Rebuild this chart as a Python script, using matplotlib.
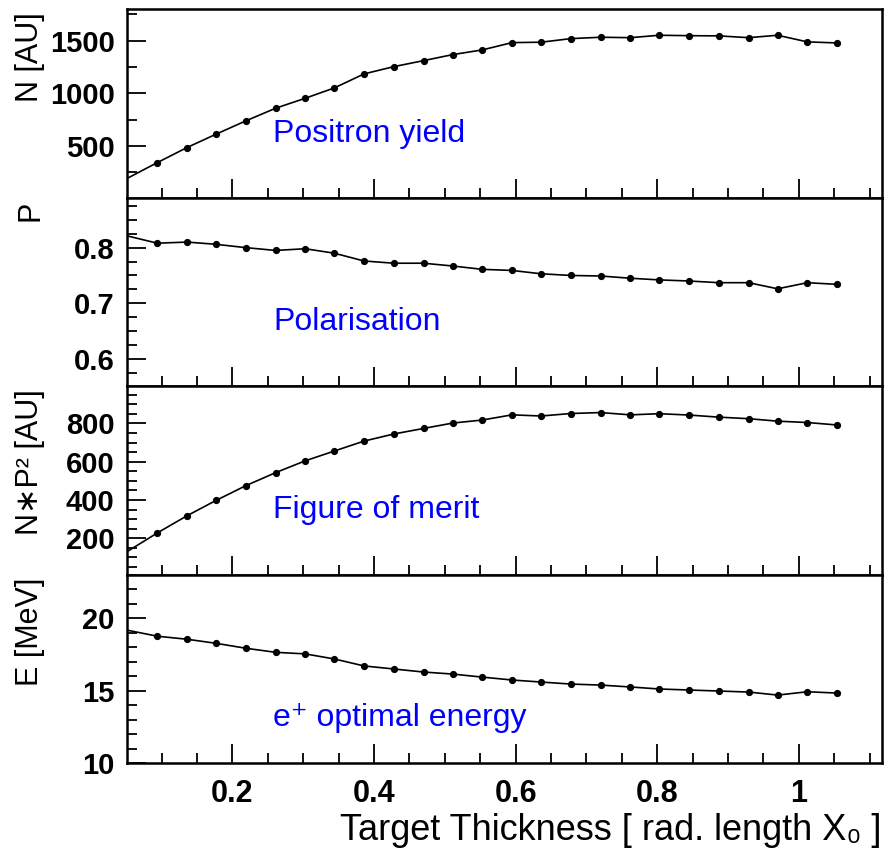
import matplotlib
matplotlib.use('Agg')
import matplotlib.pyplot as plt
from matplotlib.ticker import MultipleLocator, FuncFormatter

plt.rcParams['font.family'] = ['Liberation Sans', 'DejaVu Sans']

# target thickness in radiation lengths
thickness = [0.052, 0.094, 0.136, 0.177, 0.219, 0.261, 0.303, 0.344, 0.386,
             0.428, 0.470, 0.511, 0.553, 0.595, 0.636, 0.678, 0.720, 0.762,
             0.803, 0.845, 0.887, 0.929, 0.970, 1.012, 1.054]

yield_N = [194, 342, 485, 612, 738, 858, 953, 1051, 1184, 1253, 1310, 1367,
           1412, 1481, 1485, 1519, 1532, 1528, 1551, 1547, 1545, 1528, 1551,
           1488, 1478]

polar_P = [0.821, 0.808, 0.810, 0.806, 0.800, 0.795, 0.798, 0.790, 0.776,
           0.772, 0.772, 0.767, 0.761, 0.759, 0.753, 0.750, 0.749, 0.745,
           0.742, 0.740, 0.737, 0.737, 0.726, 0.737, 0.734]

merit_NP2 = [132, 228, 318, 398, 475, 543, 605, 656, 708, 745, 774, 802, 818,
             845, 839, 852, 857, 845, 851, 844, 833, 825, 812, 805, 792]

energy_E = [19.17, 18.76, 18.55, 18.27, 17.93, 17.65, 17.54, 17.19, 16.71,
            16.50, 16.29, 16.15, 15.94, 15.74, 15.60, 15.46, 15.39, 15.26,
            15.12, 15.05, 14.98, 14.91, 14.70, 14.93, 14.84]

panels = [
    (yield_N, 'N [AU]', 'Positron yield', (10, 1800), 500, 250, 0.296, '{:.0f}'),
    (polar_P, 'P', 'Polarisation', (0.551, 0.89), 0.1, 0.025, 0.298, '{:.1f}'),
    (merit_NP2, 'N\u2217P\u00b2 [AU]', 'Figure of merit', (10, 995), 200, 50, 0.303, '{:.0f}'),
    (energy_E, 'E [MeV]', 'e\u207a optimal energy', (10, 23), 5, 1, 0.195, '{:.0f}'),
]

fig, axes = plt.subplots(4, 1, figsize=(8.84, 8.51), dpi=100, sharex=True)
fig.subplots_adjust(left=0.1437, right=0.9974, top=0.9894, bottom=0.1031, hspace=0)

for ax, (vals, ylab, note, ylim, major, minor, note_y, fmt) in zip(axes, panels):
    ax.plot(thickness, vals, color='black', linewidth=1.2, marker='o',
            markersize=4.2, markevery=range(1, len(thickness)))
    ax.set_xlim(0.0513, 1.117)
    ax.set_ylim(*ylim)
    ax.yaxis.set_major_locator(MultipleLocator(major))
    ax.yaxis.set_minor_locator(MultipleLocator(minor))
    ax.yaxis.set_major_formatter(FuncFormatter(lambda v, p, f=fmt: f.format(v)))
    ax.xaxis.set_major_locator(MultipleLocator(0.2))
    ax.xaxis.set_minor_locator(MultipleLocator(0.05))
    ax.tick_params(which='both', direction='in', top=False, right=False,
                   width=1.3, labelsize=21)
    ax.tick_params(which='major', length=14)
    ax.tick_params(which='minor', length=7)
    ax.tick_params(axis='y', pad=9)
    for sp in ax.spines.values():
        sp.set_linewidth(1.8)
    ax.set_ylabel(ylab, fontsize=22, loc='top', va='center')
    ax.yaxis.set_label_coords(-0.128, 0.985)
    ax.text(0.1935, note_y, note, transform=ax.transAxes, color='#0000ff',
            fontsize=23, ha='left', va='baseline')

axes[3].xaxis.set_major_formatter(FuncFormatter(lambda v, p: f'{v:g}'))
axes[3].tick_params(axis='x', labelsize=22, pad=11)
axes[3].set_xlabel('Target Thickness [ rad. length X\u2080 ]', fontsize=26,
                   loc='right', labelpad=3)

for ax in axes:
    for lbl in ax.get_yticklabels() + ax.get_xticklabels():
        lbl.set_fontweight('bold')

fig.savefig('out.png', dpi=100, facecolor='white')
